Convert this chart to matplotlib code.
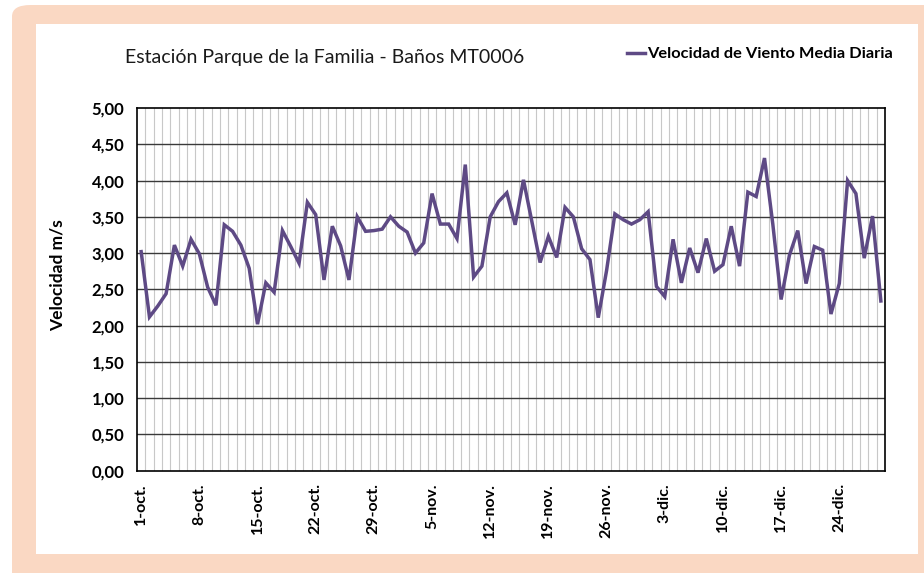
import numpy as np
import matplotlib
matplotlib.use('Agg')
import matplotlib.pyplot as plt
from matplotlib.patches import FancyBboxPatch, Rectangle

plt.rcParams['font.family'] = ['Lato', 'DejaVu Sans']

# Velocidad de viento media diaria (m/s), 1-oct a 29-dic
velocidad = [
    3.02, 2.12, 2.27, 2.44, 3.11, 2.82, 3.19, 2.99, 2.53, 2.28,
    3.39, 3.30, 3.11, 2.79, 2.02, 2.59, 2.46, 3.31, 3.09, 2.86,
    3.70, 3.53, 2.63, 3.37, 3.10, 2.63, 3.50, 3.30, 3.31, 3.33,
    3.50, 3.37, 3.29, 3.00, 3.14, 3.82, 3.40, 3.40, 3.20, 4.22,
    2.67, 2.82, 3.50, 3.71, 3.83, 3.39, 4.01, 3.44, 2.87, 3.23,
    2.94, 3.63, 3.50, 3.06, 2.91, 2.11, 2.76, 3.54, 3.46, 3.40,
    3.46, 3.57, 2.54, 2.40, 3.19, 2.59, 3.07, 2.73, 3.20, 2.75,
    2.84, 3.37, 2.82, 3.84, 3.78, 4.31, 3.40, 2.36, 2.97, 3.31,
    2.58, 3.09, 3.04, 2.16, 2.58, 4.00, 3.82, 2.93, 3.51, 2.34,
]
tick_labels = ['1-oct.', '8-oct.', '15-oct.', '22-oct.', '29-oct.', '5-nov.',
               '12-nov.', '19-nov.', '26-nov.', '3-dic.', '10-dic.', '17-dic.',
               '24-dic.']
y_ticks = [0.0, 0.5, 1.0, 1.5, 2.0, 2.5, 3.0, 3.5, 4.0, 4.5, 5.0]

W, H = 924, 573
fig = plt.figure(figsize=(W / 100, H / 100), dpi=100)
fig.patch.set_facecolor('white')

# marco de fondo
peach = '#FAD8C3'
fig.patches.append(FancyBboxPatch((12 / W, (H - 590) / H), 940 / W, 585 / H,
                                  boxstyle='round,pad=0,rounding_size=0.02',
                                  transform=fig.transFigure, facecolor=peach,
                                  edgecolor='none', zorder=-2))
fig.patches.append(Rectangle((36 / W, (H - 554) / H), 882 / W, 530 / H,
                             transform=fig.transFigure, facecolor='white',
                             edgecolor='none', zorder=-1))

ax = fig.add_axes([137 / W, 1 - 470.7 / H, 748 / W, 362.7 / H])
ax.set_facecolor('none')

x = np.arange(len(velocidad))
ax.plot(x, velocidad, color='#5E4A85', lw=2.5, solid_joinstyle='miter',
        label='Velocidad de Viento Media Diaria', zorder=3)

ax.set_xlim(-0.5, len(velocidad) - 0.5)
ax.set_ylim(0, 5)

# rejilla vertical (un día por línea)
for b in np.arange(0.5, len(velocidad) - 0.5, 1):
    ax.axvline(b, color='#C8C8C8', lw=0.8, zorder=1)
for yv in y_ticks[1:-1]:
    ax.axhline(yv, color='#3A3A3A', lw=1.0, zorder=2)

ax.set_xticks(np.arange(0, len(velocidad), 7)[:len(tick_labels)])
ax.set_xticklabels(tick_labels, rotation=90, fontweight='bold', fontsize=11.5)
ax.set_yticks(y_ticks)
ax.set_yticklabels([f'{v:.2f}'.replace('.', ',') for v in y_ticks],
                   fontweight='bold', fontsize=12)
ax.tick_params(length=0)
ax.tick_params(axis='x', pad=9)
ax.tick_params(axis='y', pad=9)
for s in ax.spines.values():
    s.set_color('black')
    s.set_linewidth(1.2)

fig.text(58 / W, 1 - 275 / H, 'Velocidad m/s', fontweight='bold', fontsize=12.5,
         rotation=90, ha='center', va='center')

fig.text(125 / W, 1 - 58 / H, 'Estación Parque de la Familia - Baños MT0006',
         fontsize=14, ha='left', va='center', color='#1A1A1A')
ax.legend(loc='upper left', bbox_to_anchor=(627 / W, 1 - 47 / H),
          bbox_transform=fig.transFigure, frameon=False, handlelength=1.1,
          handletextpad=0.1, borderaxespad=0, borderpad=0,
          prop={'weight': 'bold', 'size': 11.8})

fig.savefig('out.png', dpi=100)
